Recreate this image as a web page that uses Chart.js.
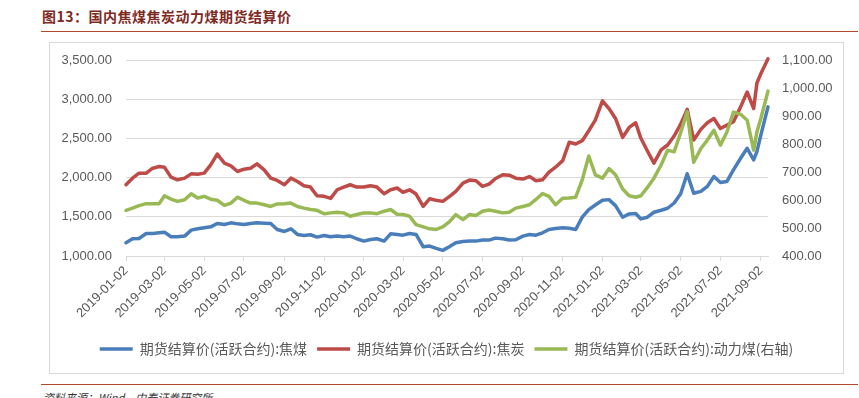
<!DOCTYPE html>
<html lang="zh-CN">
<head>
<meta charset="utf-8">
<script src="https://cdn.jsdelivr.net/npm/chart.js@4.4.1/dist/chart.umd.min.js"></script>
<style>
  html, body { margin: 0; padding: 0; background: #fff; }
  body { width: 859px; height: 398px; position: relative; overflow: hidden; font-family: "Noto Sans CJK SC", sans-serif; }
  .title { position: absolute; left: 42px; top: 6px; font-size: 14px; font-weight: bold; color: #7d2a1f; letter-spacing: 0.5px; line-height: 20px; }
  .rule { position: absolute; left: 41px; width: 817px; height: 1px; background: #b4472a; }
  .frame { position: absolute; left: 49px; top: 42px; width: 793px; height: 330px; border: 1px solid #d9d9d9; }
  .frame canvas { position: absolute; left: 0; top: 0; }
  .source { position: absolute; left: 43px; top: 389px; font-size: 11px; font-style: italic; color: #333; }
</style>
</head>
<body>
<div class="title">图13：国内焦煤焦炭动力煤期货结算价</div>
<div class="rule" style="top:31px"></div>
<div class="frame"><canvas id="chart" width="793" height="330"></canvas></div>
<div class="rule" style="top:384px"></div>
<div class="source">资料来源：Wind，中泰证券研究所</div>

<script>
// ── 数据──────────────────────────────────────────────────────────────────
const dates = [
  '2019-01-02','2019-01-12','2019-01-22','2019-02-02','2019-02-12','2019-02-22',
  '2019-03-02','2019-03-12','2019-03-22','2019-04-02','2019-04-12','2019-04-22',
  '2019-05-02','2019-05-12','2019-05-22','2019-06-02','2019-06-12','2019-06-22',
  '2019-07-02','2019-07-12','2019-07-22','2019-08-02','2019-08-12','2019-08-22',
  '2019-09-02','2019-09-12','2019-09-22','2019-10-02','2019-10-12','2019-10-22',
  '2019-11-02','2019-11-12','2019-11-22','2019-12-02','2019-12-12','2019-12-22',
  '2020-01-02','2020-01-12','2020-01-22','2020-02-02','2020-02-12','2020-02-22',
  '2020-03-02','2020-03-12','2020-03-22','2020-04-02','2020-04-12','2020-04-22',
  '2020-05-02','2020-05-12','2020-05-22','2020-06-02','2020-06-12','2020-06-22',
  '2020-07-02','2020-07-12','2020-07-22','2020-08-02','2020-08-12','2020-08-22',
  '2020-09-02','2020-09-12','2020-09-22','2020-10-02','2020-10-12','2020-10-22',
  '2020-11-02','2020-11-12','2020-11-22','2020-12-02','2020-12-12','2020-12-22',
  '2021-01-02','2021-01-12','2021-01-22','2021-02-02','2021-02-12','2021-02-22',
  '2021-03-02','2021-03-12','2021-03-22','2021-04-02','2021-04-12','2021-04-22',
  '2021-05-02','2021-05-12','2021-05-22','2021-06-02','2021-06-12','2021-06-22',
  '2021-07-02','2021-07-12','2021-07-22','2021-08-02','2021-08-12','2021-08-22',
  '2021-08-27','2021-09-02','2021-09-13'
];

// 期货结算价(活跃合约):焦煤 — 左轴
const cokingCoal = [
  1169,1220,1224,1287,1287,1296,1304,1245,1245,1254,1330,1347,
  1359,1372,1414,1402,1423,1410,1402,1414,1423,1418,1414,1338,
  1313,1347,1275,1262,1271,1241,1262,1245,1254,1245,1254,1220,
  1190,1211,1220,1190,1283,1275,1266,1287,1275,1118,1127,1097,
  1072,1118,1169,1186,1190,1190,1203,1203,1228,1220,1203,1207,
  1254,1275,1266,1296,1338,1351,1359,1355,1338,1495,1592,1651,
  1710,1719,1643,1495,1537,1541,1473,1495,1558,1583,1609,1676,
  1795,2050,1800,1824,1888,2014,1938,1951,2099,2247,2374,2226,
  2331,2543,2902
];

// 期货结算价(活跃合约):焦炭 — 左轴
const coke = [
  1909,1993,2057,2057,2120,2141,2133,2006,1972,1993,2048,2044,
  2057,2162,2300,2184,2150,2078,2107,2120,2175,2099,1993,1964,
  1909,1993,1951,1896,1879,1769,1761,1735,1845,1879,1909,1879,
  1879,1896,1879,1795,1845,1867,1812,1845,1790,1634,1731,1710,
  1697,1757,1824,1930,1968,1960,1888,1917,1989,2036,2031,1993,
  1981,2014,1960,1972,2069,2133,2217,2450,2429,2471,2598,2733,
  2980,2881,2754,2513,2640,2699,2501,2340,2184,2353,2416,2530,
  2682,2870,2480,2615,2699,2754,2627,2670,2712,2902,3092,2881,
  3206,3325,3515
];

// 期货结算价(活跃合约):动力煤 — 右轴
const thermalCoal = [
  563,571,580,587,587,587,615,603,595,601,622,607,
  613,603,599,581,589,610,599,589,589,583,577,586,
  587,589,577,571,566,563,551,554,556,554,542,548,
  554,554,551,560,566,549,548,542,512,504,497,495,
  504,522,548,530,548,545,560,564,560,554,556,571,
  577,583,602,623,613,583,606,607,610,672,757,690,
  678,712,690,639,615,610,615,645,678,725,778,772,
  840,915,735,784,814,849,796,843,914,906,885,778,
  843,891,989
];

const xTickLabels = [
  '2019-01-02','2019-03-02','2019-05-02','2019-07-02','2019-09-02','2019-11-02',
  '2020-01-02','2020-03-02','2020-05-02','2020-07-02','2020-09-02','2020-11-02',
  '2021-01-02','2021-03-02','2021-05-02','2021-07-02','2021-09-02'
];
const leftTicks  = [1000, 1500, 2000, 2500, 3000, 3500];
const rightTicks = [400, 500, 600, 700, 800, 900, 1000, 1100];

const seriesNames = [
  '期货结算价(活跃合约):焦煤',
  '期货结算价(活跃合约):焦炭',
  '期货结算价(活跃合约):动力煤(右轴)'
];

// ── 图表 ──────────────────────────────────────────────────────────────────────
const toPoints = vals => dates.map((d, i) => ({ x: Date.parse(d), y: vals[i] }));
const fmtNum = v => Number(v).toLocaleString('en-US', { minimumFractionDigits: 2, maximumFractionDigits: 2 });
const fmtDate = v => new Date(v).toISOString().slice(0, 10);

const tickFont = { family: "'Liberation Sans', Arial, sans-serif", size: 13 };
const gray = '#595959';
const gridGray = '#d9d9d9';
const clear = 'rgba(0,0,0,0)';

const lineStyle = { borderWidth: 3.5, pointRadius: 0, tension: 0, borderJoinStyle: 'round', borderCapStyle: 'round', clip: 6, pointStyle: 'line' };

new Chart(document.getElementById('chart'), {
  type: 'line',
  data: {
    datasets: [
      { ...lineStyle, label: seriesNames[0], data: toPoints(cokingCoal),  borderColor: '#4a7ebb', backgroundColor: '#4a7ebb', yAxisID: 'y',  order: 3 },
      { ...lineStyle, label: seriesNames[1], data: toPoints(coke),        borderColor: '#be4b48', backgroundColor: '#be4b48', yAxisID: 'y',  order: 2 },
      { ...lineStyle, label: seriesNames[2], data: toPoints(thermalCoal), borderColor: '#98b954', backgroundColor: '#98b954', yAxisID: 'y1', order: 1 }
    ]
  },
  options: {
    responsive: false, animation: false,
    layout: { padding: { top: 17, bottom: 7, left: 0, right: 0 } },
    plugins: {
      tooltip: { enabled: false },
      legend: {
        position: 'bottom',
        labels: {
          usePointStyle: true, pointStyle: 'line', pointStyleWidth: 33,
          padding: 10, color: gray,
          font: { family: "'Noto Sans CJK SC', sans-serif", size: 14 },
          sort: (a, b) => a.datasetIndex - b.datasetIndex
        }
      }
    },
    scales: {
      x: {
        type: 'linear',
        min: Date.parse(dates[0]), max: Date.parse(dates[dates.length - 1]),
        afterBuildTicks: s => { s.ticks = xTickLabels.map(d => ({ value: Date.parse(d) })); },
        afterFit: s => { s.height = 76; },
        grid: { drawOnChartArea: false, drawTicks: true, tickLength: 5, color: gridGray },
        border: { display: true, color: gridGray, width: 1 },
        ticks: { autoSkip: false, minRotation: 45, maxRotation: 45, padding: 2, color: gray, font: tickFont, callback: v => fmtDate(v) }
      },
      y: {
        position: 'left', min: 1000, max: 3500,
        afterBuildTicks: s => { s.ticks = leftTicks.map(v => ({ value: v })); },
        afterFit: s => { s.width = 76; },
        grid: { color: gridGray, lineWidth: 1, drawTicks: true, tickLength: 14, tickColor: clear },
        border: { display: false },
        ticks: { padding: 0, color: gray, font: tickFont, callback: v => fmtNum(v) }
      },
      y1: {
        position: 'right', min: 400, max: 1100,
        afterBuildTicks: s => { s.ticks = rightTicks.map(v => ({ value: v })); },
        afterFit: s => { s.width = 75; },
        grid: { drawOnChartArea: false, drawTicks: true, tickLength: 14, tickColor: clear },
        border: { display: false },
        ticks: { padding: 0, color: gray, font: tickFont, callback: v => fmtNum(v) }
      }
    }
  }
});
</script>
</body>
</html>
